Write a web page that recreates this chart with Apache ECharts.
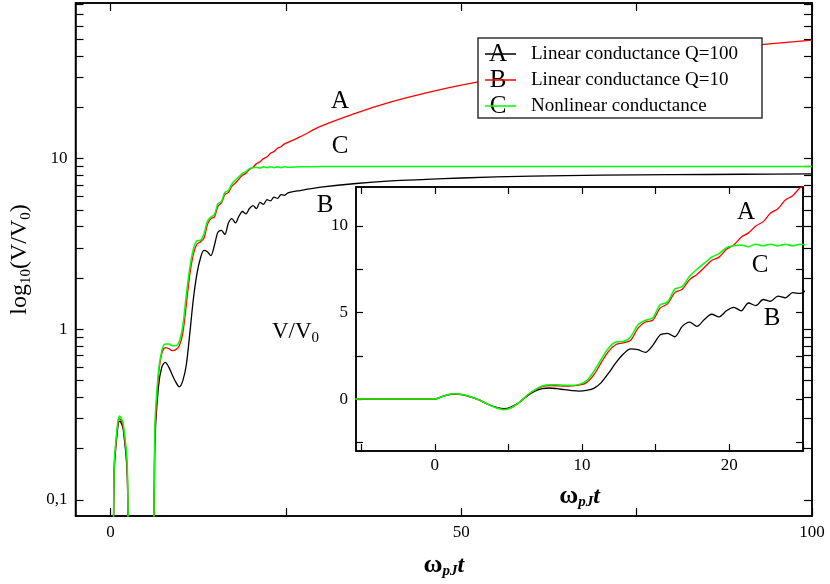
<!DOCTYPE html>
<html><head><meta charset="utf-8">
<script src="https://cdn.jsdelivr.net/npm/echarts@6/dist/echarts.min.js"></script>
<style>html,body{margin:0;padding:0;background:#fff}#c{width:830px;height:584px}</style>
</head><body><div id="c"></div>
<script>
const T = [-5.4,-1,0,0.5,1,1.3,1.8,2.4,3,3.6,4.2,4.7,5.2,5.8,
6.3,6.8,7.3,7.8,8.3,8.8,9.3,9.8,10.3,10.8,11.3,11.8,12.3,12.8,13.3,13.8,14.3,14.8,15.3,15.8,16.3,16.8,17.3,17.8,18.3,18.8,19.3,19.8,20.3,20.8,21.3,21.8,22.3,22.8,23.3,23.8,24.3,24.8,25.3,
27,30,35,40,45,50,60,70,80,90,100];
const greenV = [0,0,0,0.15,0.28,0.31,0.28,0.15,-0.05,-0.3,-0.52,-0.62,-0.5,-0.15,
0.25,0.55,0.75,0.82,0.82,0.8,0.8,0.85,1.05,1.6,2.3,2.95,3.3,3.32,3.6,4.3,4.55,4.7,5.45,5.6,6.35,6.5,7.1,7.5,7.85,8.2,8.4,8.75,8.85,8.9,8.8,8.95,8.85,8.95,8.85,8.95,8.85,8.95,8.9,
8.95,9.0,9.0,9.0,9.0,9.0,9.0,9.0,9.0,9.0,9.0];
const redV = [0,0,0,0.15,0.27,0.3,0.27,0.14,-0.05,-0.3,-0.5,-0.6,-0.5,-0.15,
0.22,0.52,0.72,0.78,0.77,0.75,0.76,0.8,0.95,1.4,2.1,2.75,3.15,3.25,3.4,4.1,4.45,4.55,5.25,5.5,6.15,6.35,6.9,7.2,7.6,8.0,8.2,8.65,8.9,9.35,9.6,10.0,10.25,10.75,11.0,11.5,11.75,12.2,12.45,
13.4,15.5,18.5,21.5,24.3,27,32,37,41.5,45.5,49.5];
const blackV = [0,0,0,0.14,0.26,0.29,0.26,0.13,-0.05,-0.3,-0.48,-0.56,-0.45,-0.15,
0.2,0.45,0.6,0.64,0.6,0.54,0.49,0.46,0.5,0.62,0.95,1.5,2.1,2.6,2.9,2.85,2.7,3.1,3.7,3.8,3.6,4.2,4.45,4.2,4.6,4.9,4.75,5.1,5.3,5.1,5.55,5.4,5.75,5.65,5.95,5.85,6.15,6.1,6.3,
6.5,6.8,7.15,7.4,7.55,7.7,7.9,8.0,8.05,8.1,8.15];
const mainXLabels = [0,50,100];
const mainXTicks = [0,25,50,75,100];
const mainYLabels = [0.1,1,10];
const mainYTicks = [0.1,0.2,0.3,0.4,0.5,0.6,0.7,0.8,0.9,1,2,3,4,5,6,7,8,9,10,20,30,40,50,60,70,80];
const insetXLabels = [0,10,20];
const insetXTicks = [-5,0,5,10,15,20,25];
const insetYLabels = [0,5,10];
const insetYTicks = [-2.5,0,2.5,5,7.5,10];
const legendItems = [['A','Linear conductance Q=100','#000000'],['B','Linear conductance Q=10','#ff0000'],['C','Nonlinear conductance','#00ff00']];

const F = 'Liberation Serif';
const lg = v => Math.log10(Math.max(v, 0.001));
const mainData = arr => T.map((t,i)=>[t, lg(arr[i])]);
const insetData = arr => T.map((t,i)=>[t, arr[i]]);
const fmtMain = v => { const p = Math.pow(10, v); return (Math.abs(p-0.1)<1e-6 ? '0,1' : String(Math.round(p))); };

function ax(o){
  return Object.assign({type:'value', axisLine:{show:true,onZero:false,lineStyle:{color:'#000',width:1.5}}, splitLine:{show:false},
    axisTick:{inside:true,length:7,lineStyle:{color:'#000',width:1.2}},
    axisLabel:{color:'#000',fontFamily:F,fontSize:17}}, o);
}
const mx = {min:-5,max:100}, my = {min:-1.094,max:1.912}, ix = {min:-5.35,max:25}, iy = {min:-3,max:12.25};
const mTx = mainXTicks, mTy = mainYTicks.map(Math.log10);

const rich = {w:{fontFamily:F,fontSize:26,fontWeight:'bold',color:'#000'},s:{fontFamily:F,fontSize:15,fontStyle:'italic',fontWeight:'bold',color:'#000',verticalAlign:'bottom',padding:[12,0,0,0]},t:{fontFamily:F,fontSize:24,fontStyle:'italic',fontWeight:'bold',color:'#000'}};
const richY = {a:{fontFamily:F,fontSize:24,color:'#000'},s:{fontFamily:F,fontSize:15,color:'#000',padding:[12,0,0,0]}};
const lab = (vals, extra) => Object.assign({color:'#000',fontFamily:F,fontSize:17,customValues:vals,margin:8}, extra||{});
const tk = (vals, len) => ({inside:true,length:len,customValues:vals,lineStyle:{color:'#000',width:1.2}});

const opt = {
  animation:false,
  grid:[{left:75,top:3,width:737,height:514,show:true,borderColor:'#000',borderWidth:1.5},
        {left:356,top:187,width:447,height:264,show:true,borderColor:'#000',borderWidth:1.5}],
  xAxis:[
    ax(Object.assign({gridIndex:0,position:'bottom',axisTick:tk(mTx,8),axisLabel:lab(mainXLabels),
      name:'{w|ω}{s|pJ}{t|t}',nameLocation:'middle',nameGap:36,nameTextStyle:{rich:rich}},mx)),
    ax(Object.assign({gridIndex:1,position:'bottom',axisTick:tk(insetXTicks,7),axisLabel:lab(insetXLabels,{margin:6}),
      name:'{w|ω}{s|pJ}{t|t}',nameLocation:'middle',nameGap:32,nameTextStyle:{rich:rich}},ix)),
    ax(Object.assign({gridIndex:0,position:'top',axisTick:tk(mTx,8),axisLabel:{show:false}},mx)),
    ax(Object.assign({gridIndex:1,position:'top',axisTick:tk(insetXTicks,7),axisLabel:{show:false}},ix))
  ],
  yAxis:[
    ax(Object.assign({gridIndex:0,position:'left',axisTick:tk(mTy,8),axisLabel:lab(mainYLabels.map(Math.log10),{formatter:fmtMain}),
      name:'{a|log}{s|10}{a|(V/V}{s|0}{a|)}',nameLocation:'middle',nameGap:42,nameTextStyle:{rich:richY}},my)),
    ax(Object.assign({gridIndex:1,position:'left',axisTick:tk(insetYTicks,7),axisLabel:lab(insetYLabels)},iy)),
    ax(Object.assign({gridIndex:0,position:'right',axisTick:tk(mTy,8),axisLabel:{show:false}},my)),
    ax(Object.assign({gridIndex:1,position:'right',axisTick:tk(insetYTicks,7),axisLabel:{show:false}},iy))
  ],
  series:[
    {type:'line',xAxisIndex:0,yAxisIndex:0,data:mainData(blackV),symbol:'none',smooth:0.3,clip:true,lineStyle:{color:'#000',width:1.3}},
    {type:'line',xAxisIndex:0,yAxisIndex:0,data:mainData(redV),symbol:'none',smooth:0.3,clip:true,lineStyle:{color:'#ff0000',width:1.3}},
    {type:'line',xAxisIndex:0,yAxisIndex:0,data:mainData(greenV),symbol:'none',smooth:0.3,clip:true,lineStyle:{color:'#00ff00',width:1.5}},
    {type:'line',xAxisIndex:1,yAxisIndex:1,data:insetData(blackV),symbol:'none',smooth:0.3,clip:true,lineStyle:{color:'#000',width:1.3}},
    {type:'line',xAxisIndex:1,yAxisIndex:1,data:insetData(redV),symbol:'none',smooth:0.3,clip:true,lineStyle:{color:'#ff0000',width:1.3}},
    {type:'line',xAxisIndex:1,yAxisIndex:1,data:insetData(greenV),symbol:'none',smooth:0.3,clip:true,lineStyle:{color:'#00ff00',width:1.5}}
  ],
  graphic:[]
};
const g = opt.graphic;
g.push({type:'rect',shape:{x:478,y:38,width:284,height:80},style:{fill:'#fff',stroke:'#333',lineWidth:1.5},z:10});
legendItems.forEach((it,i)=>{
  const y = 54 + i*26;
  g.push({type:'text',x:498,y:y,style:{text:it[0],font:'25px "Liberation Serif"',fill:'#000',textAlign:'center',textVerticalAlign:'middle'},z:11});
  g.push({type:'line',shape:{x1:485,y1:y,x2:516,y2:y},style:{stroke:it[2],lineWidth:1.5},z:12});
  g.push({type:'text',x:531,y:y,style:{text:it[1],font:'19px "Liberation Serif"',fill:'#000',textVerticalAlign:'middle'},z:11});
});
[['A',340,101],['C',340,146],['B',325,205],['A',746,212],['C',760,265],['B',772,318]].forEach(l=>{
  g.push({type:'text',x:l[1],y:l[2],style:{text:l[0],font:'25px "Liberation Serif"',fill:'#000',textAlign:'center',textVerticalAlign:'middle'},z:11});
});
g.push({type:'text',x:272,y:332,style:{text:'{a|V/V}{s|0}',rich:{a:{fontFamily:F,fontSize:23,fill:'#000'},s:{fontFamily:F,fontSize:15,fill:'#000',padding:[12,0,0,0]}},textVerticalAlign:'middle'},z:11});
echarts.init(document.getElementById('c')).setOption(opt);
</script></body></html>
